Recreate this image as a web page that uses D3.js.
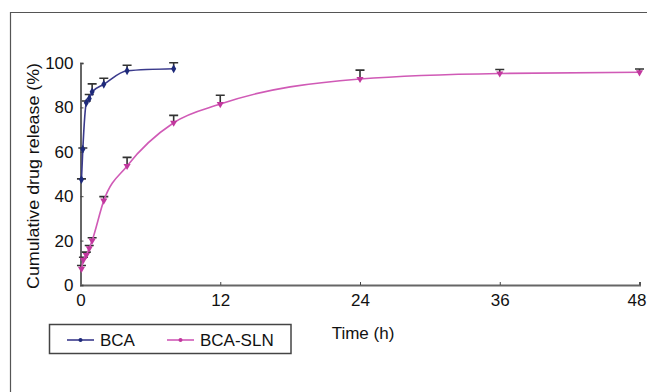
<!DOCTYPE html>
<html><head><meta charset="utf-8">
<script src="https://cdn.jsdelivr.net/npm/d3@7/dist/d3.min.js"></script>
<style>body{margin:0;background:#fff}svg{display:block;font-family:"Liberation Sans",Arial,sans-serif}</style>
</head><body><svg id="c" width="647" height="392"></svg>
<script>
const bcaTime = [0.083, 0.2, 0.5, 0.75, 1, 2, 4, 8];
const bcaValue = [47.5, 61.2, 82.1, 84, 87, 90.4, 96.5, 97.4];
const bcaErr = [0.3, 0.5, 0.8, 1.8, 3.6, 2.7, 2.5, 2.7];
const slnTime = [0.083, 0.25, 0.5, 0.75, 1, 2, 4, 8, 12, 24, 36, 48];
const slnValue = [7.3, 11.3, 13.5, 16.5, 20, 38, 53.6, 73.1, 81.5, 92.8, 95.3, 95.8];
const slnErr = [1.5, 1.2, 1.3, 1.3, 1.3, 1.8, 3.9, 3.3, 4, 4, 1.8, 1.5];
const xTicks = [0, 12, 24, 36, 48];
const yTicks = [0, 20, 40, 60, 80, 100];
const seriesNames = ["BCA", "BCA-SLN"];

const svg = d3.select("#c");
const x = d3.scaleLinear().domain([0, 48]).range([80.5, 639.5]);
const y = d3.scaleLinear().domain([0, 100]).range([285, 63]);
const FS = "17px";

svg.append("path").attr("d", "M10.5,392 V12.5 H647").attr("fill", "none").attr("stroke", "#555").attr("stroke-width", 1.2);

const axisColor = "#666";
const xa = svg.append("g").attr("transform", `translate(0,${y(0)})`)
  .call(d3.axisBottom(x).tickValues(xTicks).tickSize(-3).tickPadding(10).tickFormat(d3.format("d")));
const ya = svg.append("g").attr("transform", `translate(${x(0)},0)`)
  .call(d3.axisLeft(y).tickValues(yTicks).tickSize(-3).tickPadding(7).tickFormat(d3.format("d")));
[xa, ya].forEach(g => {
  g.select(".domain").attr("stroke", axisColor).attr("stroke-width", 2);
  g.selectAll(".tick line").attr("stroke", "#444").attr("stroke-width", 1);
  g.selectAll(".tick text").attr("fill", "#111").style("font-size", FS).style("font-family", "Liberation Sans, Arial, sans-serif");
});
xa.selectAll(".tick text").attr("dy", "0.71em").attr("y", 9)
  .attr("x", d => d === 48 ? -3 : 0);

svg.append("text").attr("transform", `translate(33,${(y(0)+y(100))/2 + 2}) rotate(-90)`)
  .attr("text-anchor", "middle").attr("dy", "0.35em").style("font-size", FS).attr("fill", "#111")
  .attr("textLength", 226).attr("lengthAdjust", "spacingAndGlyphs")
  .text("Cumulative drug release (%)");
svg.append("text").attr("x", 363).attr("y", 333).attr("text-anchor", "middle").attr("dy", "0.35em")
  .style("font-size", FS).attr("fill", "#111").text("Time (h)");

const series = [
  {name: seriesNames[0], t: bcaTime, v: bcaValue, e: bcaErr, line: "#3a3a8c", mark: "#1e2a7a", shape: "diamond"},
  {name: seriesNames[1], t: slnTime, v: slnValue, e: slnErr, line: "#d05ab6", mark: "#c2379e", shape: "tri"}
];
const line = d3.line().x(d => x(d[0])).y(d => y(d[1])).curve(d3.curveMonotoneX);

series.forEach(s => {
  const pts = s.t.map((t, i) => [t, s.v[i], s.e[i]]);
  const g = svg.append("g");
  g.selectAll("path.eb").data(pts).join("path").attr("class", "eb")
    .attr("d", d => `M${x(d[0])},${y(d[1])} V${y(d[1]+d[2])} M${x(d[0])-4.5},${y(d[1]+d[2])} H${x(d[0])+4.5}`)
    .attr("stroke", "#333").attr("stroke-width", 1.6).attr("fill", "none");
  g.append("path").datum(pts).attr("d", line).attr("fill", "none").attr("stroke", s.line).attr("stroke-width", 1.6);
  const sym = s.shape === "diamond" ? d3.symbol(d3.symbolDiamond, 22) : d3.symbol(d3.symbolTriangle, 22);
  g.selectAll("path.m").data(pts).join("path").attr("class", "m")
    .attr("transform", d => `translate(${x(d[0])},${y(d[1])})` + (s.shape === "tri" ? " rotate(180)" : ""))
    .attr("d", sym).attr("fill", s.mark);
});

const lg = svg.append("g");
lg.append("rect").attr("x", 49.5).attr("y", 324.5).attr("width", 241.5).attr("height", 29)
  .attr("fill", "#fff").attr("stroke", "#444").attr("stroke-width", 1.5);
const legendPos = [{lx: 67, tx: 100}, {lx: 167, tx: 200}];
series.forEach((s, i) => {
  const p = legendPos[i];
  lg.append("line").attr("x1", p.lx).attr("x2", p.lx + 27).attr("y1", 340).attr("y2", 340)
    .attr("stroke", s.line).attr("stroke-width", 1.6);
  lg.append("circle").attr("cx", p.lx + 13.5).attr("cy", 340).attr("r", 2).attr("fill", s.mark);
  lg.append("text").attr("x", p.tx).attr("y", 340).attr("dy", "0.35em").style("font-size", FS)
    .attr("fill", "#111").text(s.name);
});
</script></body></html>
